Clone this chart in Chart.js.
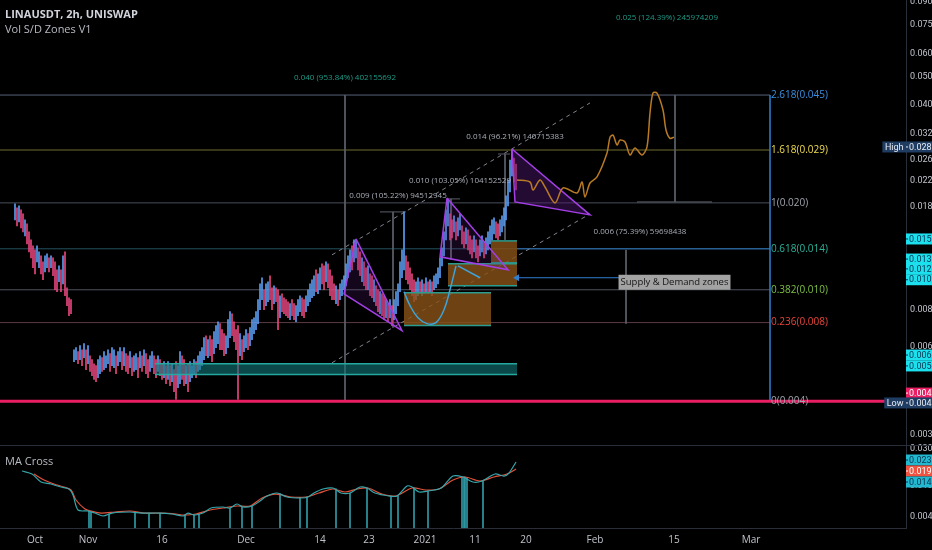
<!DOCTYPE html>
<html>
<head>
<meta charset="utf-8">
<script src="https://cdn.jsdelivr.net/npm/chart.js@4.4.1/dist/chart.umd.min.js"></script>
<style>
  html, body { margin: 0; padding: 0; background: #000; }
  #wrap { position: relative; width: 932px; height: 550px; }
  canvas { display: block; }
  .t { position: absolute; left: 5px; font-family: "Open Sans", sans-serif; font-size: 11px; line-height: 13px; color: #d1d4dc; white-space: nowrap; }
</style>
</head>
<body>
<div id="wrap">
  <canvas id="c" width="932" height="550"></canvas>
  <div class="t" style="top:7px;font-weight:bold;">LINAUSDT, 2h, UNISWAP</div>
  <div class="t" style="top:22px;color:#b8bbc3;">Vol S/D Zones V1</div>
  <div class="t" style="top:454px;color:#b8bbc3;">MA Cross</div>
</div>
<script>
// x axis is in bar slots (one slot ~ 2 px of the original screenshot)
const xTickPos = [17.5, 44, 81, 123, 160, 184.5, 212.5, 237.5, 263, 297.5, 337, 375.5];
const xTickLabels = ['Oct', 'Nov', '16', 'Dec', '14', '23', '2021', '11', '20', 'Feb', '15', 'Mar'];
const priceTicks = [0.090, 0.075, 0.060, 0.050, 0.040, 0.032, 0.026, 0.022, 0.018, 0.010, 0.008, 0.006, 0.004, 0.003];
const maTicks = [0.030, 0.010, 0.004];

// candles: three runs of consecutive slots (gap in October)
const candleSegStart = [7.5, 37, 100];
const candleSegLen = [29, 63, 159];
const candleHigh = [
  // Oct
  0.01840,0.01783,0.01811,0.01755,0.01701,0.01623,0.01573,0.01477,0.01387,0.01323,0.01282,0.01323,0.01262,0.01223,0.01167,
  0.01223,0.01243,0.01204,0.01223,0.01204,0.01167,0.01096,0.01131,0.01096,0.01223,0.01262,0.00952,0.00880,0.00867,
  // Nov
  0.00585,0.00595,0.00576,0.00604,0.00585,0.00614,0.00585,0.00604,0.00558,0.00541,0.00524,0.00516,0.00541,0.00558,0.00550,
  0.00576,0.00558,0.00585,0.00567,0.00595,0.00585,0.00558,0.00576,0.00595,0.00576,0.00595,0.00567,0.00558,0.00576,0.00550,
  0.00558,0.00567,0.00550,0.00576,0.00558,0.00585,0.00567,0.00541,0.00558,0.00576,0.00558,0.00541,0.00558,0.00541,0.00524,
  0.00533,0.00516,0.00533,0.00516,0.00524,0.00500,0.00533,0.00516,0.00576,0.00558,0.00541,0.00516,0.00524,0.00533,0.00516,
  0.00541,0.00533,0.00558,
  // late Nov - Jan
  0.00576,0.00595,0.00643,0.00653,0.00633,0.00653,0.00633,0.00674,0.00707,0.00729,0.00718,0.00685,0.00664,0.00653,0.00741,
  0.00789,0.00776,0.00729,0.00685,0.00707,0.00664,0.00633,0.00653,0.00685,0.00664,0.00696,0.00741,0.00752,0.00789,0.00867,
  0.00982,0.01030,0.00937,0.00982,0.00998,0.01046,0.00952,0.00967,0.00952,0.00937,0.00894,0.00908,0.00880,0.00867,0.00853,
  0.00840,0.00867,0.00840,0.00827,0.00867,0.00894,0.00880,0.00867,0.00894,0.00937,0.00982,0.01014,0.01046,0.01096,0.01062,
  0.01114,0.01149,0.01131,0.01167,0.01149,0.01096,0.01046,0.00982,0.00967,0.00937,0.00982,0.01014,0.01046,0.01149,0.01223,
  0.01282,0.01323,0.01387,0.01387,0.01303,0.01262,0.01204,0.01167,0.01114,0.01131,0.01062,0.01046,0.01014,0.00967,0.00937,
  0.00923,0.00908,0.00894,0.00867,0.00840,0.00867,0.00827,0.00867,0.00923,0.00982,0.01167,0.01282,0.01728,0.01223,0.01167,
  0.01114,0.01062,0.01014,0.00998,0.01030,0.00998,0.01014,0.00982,0.01030,0.00998,0.01014,0.00998,0.01046,0.01062,0.01114,
  0.01204,0.01303,0.01477,0.01755,0.01898,0.01701,0.01623,0.01674,0.01597,0.01648,0.01701,0.01548,0.01477,0.01524,0.01500,
  0.01431,0.01387,0.01431,0.01387,0.01323,0.01387,0.01431,0.01365,0.01409,0.01477,0.01548,0.01623,0.01648,0.01597,0.01573,
  0.01623,0.01674,0.01783,0.01959,0.02221,0.02599,0.02811,0.02640,0.02518
];
const candleLow = [
  // Oct
  0.01623,0.01548,0.01597,0.01524,0.01477,0.01431,0.01344,0.01262,0.01204,0.01114,0.01062,0.01167,0.01114,0.01062,0.01014,
  0.01079,0.01114,0.01079,0.01114,0.01046,0.00937,0.00923,0.00998,0.00923,0.00982,0.00894,0.00827,0.00764,0.00776,
  // Nov
  0.00533,0.00541,0.00524,0.00541,0.00516,0.00550,0.00500,0.00524,0.00493,0.00477,0.00463,0.00455,0.00470,0.00485,0.00493,
  0.00500,0.00508,0.00524,0.00493,0.00516,0.00508,0.00485,0.00516,0.00533,0.00500,0.00516,0.00493,0.00485,0.00508,0.00477,
  0.00493,0.00500,0.00470,0.00508,0.00493,0.00516,0.00485,0.00470,0.00493,0.00508,0.00485,0.00470,0.00493,0.00477,0.00463,
  0.00470,0.00448,0.00463,0.00441,0.00455,0.00421,0.00396,0.00434,0.00448,0.00463,0.00441,0.00448,0.00421,0.00455,0.00470,
  0.00485,0.00470,0.00493,
  // late Nov - Jan
  0.00500,0.00516,0.00541,0.00558,0.00550,0.00558,0.00533,0.00567,0.00595,0.00614,0.00585,0.00585,0.00558,0.00567,0.00595,
  0.00643,0.00653,0.00623,0.00585,0.00396,0.00558,0.00541,0.00576,0.00595,0.00585,0.00604,0.00633,0.00664,0.00685,0.00718,
  0.00801,0.00867,0.00801,0.00827,0.00853,0.00867,0.00801,0.00840,0.00853,0.00685,0.00752,0.00789,0.00776,0.00764,0.00752,
  0.00741,0.00764,0.00741,0.00729,0.00764,0.00789,0.00764,0.00752,0.00789,0.00827,0.00853,0.00880,0.00894,0.00923,0.00908,
  0.00937,0.00982,0.00937,0.00998,0.00952,0.00894,0.00867,0.00867,0.00840,0.00827,0.00867,0.00894,0.00937,0.00967,0.01030,
  0.01079,0.01096,0.01167,0.01204,0.01096,0.01046,0.00998,0.00967,0.00937,0.00937,0.00894,0.00880,0.00853,0.00827,0.00789,
  0.00776,0.00764,0.00741,0.00752,0.00729,0.00752,0.00707,0.00741,0.00776,0.00827,0.00923,0.01030,0.01096,0.01014,0.00982,
  0.00937,0.00894,0.00853,0.00867,0.00894,0.00908,0.00894,0.00908,0.00923,0.00908,0.00923,0.00894,0.00937,0.00952,0.00982,
  0.01030,0.01131,0.01223,0.01387,0.01548,0.01387,0.01409,0.01477,0.01387,0.01431,0.01500,0.01344,0.01303,0.01344,0.01282,
  0.01243,0.01204,0.01262,0.01204,0.01167,0.01223,0.01262,0.01204,0.01243,0.01282,0.01344,0.01387,0.01454,0.01409,0.01387,
  0.01431,0.01477,0.01548,0.01623,0.01811,0.02021,0.02292,0.02186,0.02053
];
const candleDir = (
  'ududduddddduudduududddududdddu'.slice(0, 29) +
  'uududududd' + 'dduuduuudu' + 'uduududdud' + 'uudududduu' + 'dduddududu' + 'dduudduduu' + 'udu' +
  'uuududduuu' + 'ddduuudddd' + 'uduuduuuuu' + 'uuduuddudd' + 'uddddudduu' + 'udduuuuudu' + 'udduddddud' +
  'uuuuuuduud' + 'dudduddudd' + 'uddududuuu' + 'uuuddddduu' + 'dudududuuu' + 'uuuuuddudu' + 'uddudddudd' +
  'uuduuuuudd' + 'uuuuuuudd'
).split('');

// Fibonacci retracement
const fibLevels = ['0', '0.236', '0.382', '0.618', '1', '1.618', '2.618'];
const fibValues = ['0.004', '0.008', '0.010', '0.014', '0.020', '0.029', '0.045'];
const fibPrices = [0.00389, 0.00724, 0.00937, 0.01293, 0.01855, 0.02811, 0.0433];
const fibLineColors = ['#4a4f5c', '#5b3a44', '#4d525c', '#24525f', '#4a4f5c', '#6f6d2c', '#566079'];
const fibLabelColors = ['#a0a4ad', '#e8453c', '#7cc043', '#2bb39a', '#a0a4ad', '#f0dc50', '#3b8fe0'];
const fibStartX = 0, fibEndX = 385;

// measuring tool segments and labels
const guideX0 = [172.5, 196.5, 190, 225.5, 223.5, 252.5, 249, 313, 337.5, 318.5];
const guideP0 = [0.0433, 0.01728, 0.01728, 0.01914, 0.01914, 0.02724, 0.02724, 0.01282, 0.0433, 0.01869];
const guideX1 = [172.5, 196.5, 203, 225.5, 230, 252.5, 255, 313, 337.5, 356];
const guideP1 = [0.00392, 0.00696, 0.01728, 0.01186, 0.01914, 0.01387, 0.02724, 0.00718, 0.01869, 0.01869];
const noteText = ['0.040 (953.84%) 402155692', '0.009 (105.22%) 94512945', '0.010 (103.05%) 104152529',
                  '0.014 (96.21%) 140715383', '0.006 (75.39%) 59698438', '0.025 (124.39%) 245974209'];
const noteX = [172.5, 199, 230, 257.5, 320, 333.5];
const noteP = [0.0495, 0.01959, 0.02203, 0.0311, 0.01477, 0.0794];
const noteColor = ['#1f9c88', '#a9adb6', '#a9adb6', '#a9adb6', '#a9adb6', '#1f9c88'];
const calloutText = 'Supply & Demand zones';
const calloutX = 337.25, calloutP = 0.00994;

// zones
const boxX0 = [77.5, 202, 224, 245.5];
const boxX1 = [258.5, 245.5, 258.5, 258.5];
const boxTop = [0.00524, 0.00916, 0.01149, 0.01376];
const boxBottom = [0.00481, 0.00707, 0.00967, 0.01158];
const boxFill = ['rgba(18,120,122,0.6)', 'rgba(138,82,22,0.8)', 'rgba(138,82,22,0.8)', 'rgba(138,82,22,0.8)'];
const boxEdge = ['#24a8a0', '#2a9d8f', '#2a9d8f', '#2a9d8f'];

// pennants (three vertices each)
const triX = [[178, 172, 201], [223.5, 220, 254], [256, 257.5, 295]];
const triP = [[0.01398, 0.00908, 0.0068], [0.01928, 0.01214, 0.01096], [0.02834, 0.01869, 0.01688]];
const triFill = ['rgba(110,40,150,0.18)', 'rgba(110,40,150,0.18)', 'rgba(80,25,115,0.45)'];

// rising channel
const chanX = [166, 295];
const chanLow = [0.00528, 0.01701];
const chanHigh = [0.01233, 0.0407];

// cup and handle
const cupX = [202, 205, 209, 213.5, 218, 222, 225, 228];
const cupP = [0.00923, 0.00827, 0.00752, 0.00718, 0.00724, 0.00801, 0.00937, 0.01131];
const handleX = [229, 240];
const handleP = [0.01131, 0.0103];

// projected path
const pathX = [258.5, 265, 266.5, 270, 272.5, 277.5, 281.5, 288.5, 291, 292.5, 295, 298.5, 303.5, 305, 306.5,
               308.5, 310, 312.5, 315, 317.5, 321, 323.5, 325, 326.5, 328.5, 331.5, 333, 335, 337];
const pathP = [0.02221, 0.02186, 0.02053, 0.02221, 0.02102, 0.01855, 0.02086, 0.02005, 0.02186, 0.01944, 0.02169, 0.02274,
               0.02745, 0.0311, 0.0316, 0.02924, 0.03041, 0.02994, 0.02703, 0.02856, 0.02703, 0.02879, 0.0376, 0.0440,
               0.0440, 0.0385, 0.0329, 0.0308, 0.0311];

// arrows / support
const arrowX = [258.5, 313];
const arrowP = [0.0103, 0.0103];
const blueLevelX = [258.5, 385];
const supportPrice = 0.0039;

// MA Cross pane
const fastX = [11, 16, 20.5, 25.5, 30.5, 34.5, 36.5, 39, 44, 47.5, 51.5, 56, 65, 71, 79.5, 86, 91.5, 94, 97, 101.5,
               105.5, 111.5, 115, 118.5, 121.5, 126, 130, 133.5, 138.5, 143.5, 150.5, 154, 157, 161.5, 166.5, 170.5,
               175, 180, 183.5, 187.5, 194.5, 198.5, 203.5, 206, 209.5, 214, 220.5, 226.5, 231.5, 236.5, 241, 247.5,
               252, 254.5, 258];
const fastMA = [0.01562, 0.01429, 0.01127, 0.01062, 0.00971, 0.00916, 0.00766, 0.00491, 0.00477, 0.00449, 0.00411,
                0.00449, 0.00463, 0.00449, 0.00449, 0.00436, 0.00411, 0.00449, 0.00423, 0.00449, 0.00521, 0.00537,
                0.00521, 0.00587, 0.00537, 0.00553, 0.00641, 0.00744, 0.00813, 0.00722, 0.00701, 0.00722, 0.00813,
                0.00916, 0.00943, 0.00813, 0.00813, 0.00971, 0.00943, 0.00813, 0.00744, 0.00744, 0.01001, 0.00971,
                0.00838, 0.00863, 0.00943, 0.01346, 0.01307, 0.01127, 0.01161, 0.01429, 0.01346, 0.01472, 0.02040];
const slowX = [17, 22, 27, 32, 35.5, 38, 42.5, 45.5, 50.5, 57.5, 65, 72.5, 81, 88, 92, 98, 105, 111.5, 118.5, 125,
               131, 138, 145.5, 153, 159.5, 166.5, 172.5, 178.5, 184, 191, 198, 206, 213, 219.5, 226.5, 232.5, 240,
               247, 253.5, 258];
const slowMA = [0.01429, 0.01196, 0.01062, 0.00971, 0.00889, 0.00661, 0.00506, 0.00477, 0.00449, 0.00463, 0.00477,
                0.00449, 0.00449, 0.00436, 0.00423, 0.00436, 0.00491, 0.00521, 0.00553, 0.00553, 0.00701, 0.00789,
                0.00722, 0.00722, 0.00813, 0.00916, 0.00838, 0.00916, 0.00943, 0.00789, 0.00744, 0.00943, 0.00889,
                0.00916, 0.01196, 0.01307, 0.01161, 0.01307, 0.01429, 0.01657];
const crossX = [44.5, 45.5, 54.5, 67.5, 74.5, 80, 92.5, 97, 99.5, 115, 121, 126, 140, 150, 153.5, 168, 175, 183.5,
                195.5, 199, 207, 214, 231, 232, 232.5, 233.5, 241.5];
const crossV = [0.00477, 0.00477, 0.0044, 0.00463, 0.00449, 0.00449, 0.00423, 0.0043, 0.0044, 0.00521, 0.00545, 0.00553,
                0.0080, 0.0071, 0.00722, 0.0092, 0.00813, 0.00943, 0.00744, 0.00744, 0.0095, 0.0087, 0.0131, 0.0131,
                0.01307, 0.0129, 0.01161];

// price tags on the right axis
const tagText = ['0.028', '0.015', '0.013', '0.012', '0.010', '0.006', '0.005', '0.004', '0.004'];
const tagPrice = [0.02879, 0.01397, 0.01193, 0.01104, 0.01014, 0.00561, 0.00515, 0.00416, 0.00385];
const tagPrefix = ['High', '', '', '', '', '', '', '', 'Low'];
const tagBg = ['#1f3d63', '#1ce0ee', '#1ce0ee', '#1ce0ee', '#1ce0ee', '#1ce0ee', '#1ce0ee', '#e91e63', '#1f3d63'];
const tagFg = ['#e8eaf0', '#0a3550', '#0a3550', '#0a3550', '#0a3550', '#0a3550', '#0a3550', '#ffffff', '#e8eaf0'];
const maTagText = ['0.023', '0.019', '0.014'];
const maTagValue = [0.02165, 0.01562, 0.01127];
const maTagBg = ['#22b8cf', '#ef5340', '#22b8cf'];
const maTagFg = ['#0a3550', '#ffffff', '#0a3550'];

const yMin = 0.002766, yMax = 0.0914;
const maMin = 0.00288, maMax = 0.0338;

const UP = '#5b9cf0', DOWN = '#e5457d';
const AXIS_TXT = '#c0c3cb';

// ---------- build datasets ----------
const candleX = [];
candleSegStart.forEach((s, k) => { for (let i = 0; i < candleSegLen[k]; i++) candleX.push(s + i); });

const pts = (xs, ys) => xs.map((x, i) => ({ x: x, y: ys[i] }));
const line = (data, color, extra) => Object.assign({
  type: 'line', data: data, borderColor: color, borderWidth: 1, pointRadius: 0,
  fill: false, tension: 0, yAxisID: 'y'
}, extra || {});

const datasets = [];

// fib levels
fibPrices.forEach((p, i) => {
  datasets.push(line(pts([fibStartX, fibEndX], [p, p]), fibLineColors[i]));
});
datasets.push(line(pts(blueLevelX, [fibPrices[3], fibPrices[3]]), '#2f6fb8'));
datasets.push(line(pts([fibEndX, fibEndX], [fibPrices[6], fibPrices[0]]), '#2f80d0', { borderWidth: 1.5 }));

// measuring guides
guideX0.forEach((x0, i) => {
  datasets.push(line(pts([x0, guideX1[i]], [guideP0[i], guideP1[i]]), '#5a5f69'));
});

// channel
datasets.push(line(pts(chanX, chanLow), '#80858f', { borderDash: [4, 4] }));
datasets.push(line(pts(chanX, chanHigh), '#80858f', { borderDash: [4, 4] }));

// candles
datasets.push({
  type: 'bar', yAxisID: 'y', grouped: false, barThickness: 1, borderWidth: 0,
  data: candleX.map((x, i) => ({ x: x, y: [candleLow[i], candleHigh[i]] })),
  backgroundColor: candleDir.map(d => d === 'u' ? UP : DOWN)
});

// zones
boxX0.forEach((x0, i) => {
  datasets.push(line(pts([x0, boxX1[i]], [boxTop[i], boxTop[i]]), boxEdge[i], { fill: '+1', backgroundColor: boxFill[i], borderWidth: 1.5 }));
  datasets.push(line(pts([x0, boxX1[i]], [boxBottom[i], boxBottom[i]]), boxEdge[i], { borderWidth: 1.5 }));
});

// cup and handle
datasets.push(line(pts(cupX, cupP), '#3ea3d8', { tension: 0.4, borderWidth: 1.5 }));
datasets.push(line(pts(handleX, handleP), '#3ea3d8', { borderWidth: 1.5 }));

// pennants
triX.forEach((xs, k) => {
  const v = pts(xs, triP[k]).sort((a, b) => a.x - b.x);
  const t = (v[1].x - v[0].x) / (v[2].x - v[0].x);
  const chord = Math.exp(Math.log(v[0].y) + t * (Math.log(v[2].y) - Math.log(v[0].y)));
  const bent = [v[0], v[1], v[2]], straight = [v[0], v[2]];
  const upper = v[1].y > chord ? bent : straight;
  const lower = v[1].y > chord ? straight : bent;
  datasets.push(line(upper, 'rgba(0,0,0,0)', { borderWidth: 0, fill: '+1', backgroundColor: triFill[k] }));
  datasets.push(line(lower, 'rgba(0,0,0,0)', { borderWidth: 0 }));
  const outline = pts(xs, triP[k]);
  outline.push(outline[0]);
  datasets.push(line(outline, '#a43fe6', { borderWidth: 1.5 }));
});

// projected path
datasets.push(line(pts(pathX, pathP), '#b87a24', { tension: 0.3, borderWidth: 1.5 }));

// arrow to zones
datasets.push(line(pts(arrowX, arrowP), '#2f80d0', {
  pointRadius: [4, 0], pointStyle: 'triangle', pointRotation: 270,
  pointBackgroundColor: '#2f80d0', pointBorderWidth: 0
}));

// support line
datasets.push(line(pts([0, 453], [supportPrice, supportPrice]), '#e91e63', { borderWidth: 3 }));

// MA Cross pane
datasets.push({
  type: 'bar', yAxisID: 'y2', grouped: false, barThickness: 1, borderWidth: 0,
  data: crossX.map((x, i) => ({ x: x, y: [maMin, crossV[i]] })),
  backgroundColor: '#2e9aa6'
});
datasets.push(line(pts(slowX, slowMA), '#e0523c', { yAxisID: 'y2', tension: 0.3, borderWidth: 1.2 }));
datasets.push(line(pts(fastX, fastMA), '#35a7ad', { yAxisID: 'y2', tension: 0.3, borderWidth: 1.2 }));

// paint in array order
datasets.forEach((d, i) => { d.order = -i; });

// ---------- text / tags plugin ----------
const overlay = {
  id: 'overlay',
  afterDatasetsDraw(chart) {
    const { ctx, scales: { x, y } } = chart;
    ctx.save();
    ctx.textBaseline = 'middle';
    // fib labels
    ctx.font = '10px "Open Sans"';
    ctx.textAlign = 'left';
    fibLevels.forEach((lv, i) => {
      ctx.fillStyle = fibLabelColors[i];
      ctx.fillText(lv + '(' + fibValues[i] + ')', x.getPixelForValue(fibEndX) + 1, y.getPixelForValue(fibPrices[i]));
    });
    // measure notes
    ctx.font = '8px "Open Sans"';
    ctx.textAlign = 'center';
    noteText.forEach((t, i) => {
      ctx.fillStyle = noteColor[i];
      ctx.fillText(t, x.getPixelForValue(noteX[i]), y.getPixelForValue(noteP[i]));
    });
    // callout
    ctx.font = '9.5px "Open Sans"';
    const cx = x.getPixelForValue(calloutX), cy = y.getPixelForValue(calloutP);
    const w = ctx.measureText(calloutText).width + 4;
    ctx.fillStyle = '#a3a3a3';
    ctx.fillRect(cx - w / 2, cy - 7.5, w, 15);
    ctx.fillStyle = '#151515';
    ctx.fillText(calloutText, cx, cy + 0.5);
    ctx.restore();
  },
  afterDraw(chart) {
    const { ctx, chartArea, scales: { y, y2 } } = chart;
    const ax = chartArea.right;
    ctx.save();
    // pane separator
    ctx.strokeStyle = '#2a2e39';
    ctx.lineWidth = 1;
    ctx.beginPath();
    ctx.moveTo(0, Math.round(y.bottom) + 0.5);
    ctx.lineTo(chart.width, Math.round(y.bottom) + 0.5);
    ctx.stroke();
    const tag = (py, text, bg, fg, prefix) => {
      const h = 11;
      ctx.font = '9px Roboto';
      ctx.textBaseline = 'middle';
      ctx.fillStyle = bg;
      ctx.fillRect(ax, py - h / 2, chart.width - ax, h);
      if (prefix) {
        const pw = ctx.measureText(prefix).width + 5;
        ctx.fillRect(ax - pw, py - h / 2, pw, h);
        ctx.fillStyle = fg;
        ctx.textAlign = 'center';
        ctx.fillText(prefix, ax - pw / 2, py + 0.5);
      }
      ctx.fillStyle = fg;
      ctx.fillRect(ax, py - 0.5, 2, 1);
      ctx.textAlign = 'left';
      ctx.fillText(text, ax + 3, py + 0.5);
    };
    tagText.forEach((t, i) => tag(y.getPixelForValue(tagPrice[i]), t, tagBg[i], tagFg[i], tagPrefix[i]));
    maTagText.forEach((t, i) => tag(y2.getPixelForValue(maTagValue[i]), t, maTagBg[i], maTagFg[i], ''));
    ctx.restore();
  }
};

const axisFont = { size: 9, family: 'Roboto' };
const noPad = s => { s.paddingTop = 0; s.paddingBottom = 0; s.paddingLeft = 0; s.paddingRight = 0; };

new Chart(document.getElementById('c'), {
  type: 'line',
  data: { datasets: datasets },
  options: {
    responsive: false,
    animation: false,
    events: [],
    layout: { padding: 0, autoPadding: false },
    plugins: { legend: { display: false }, tooltip: { enabled: false } },
    scales: {
      x: {
        type: 'linear', min: 0, max: 453, offset: false,
        grid: { display: false, drawTicks: false },
        border: { display: true, color: '#2a2e39' },
        afterBuildTicks: s => { s.ticks = xTickPos.map(v => ({ value: v })); },
        afterFit: s => { s.height = 22; noPad(s); },
        ticks: {
          color: AXIS_TXT, font: { size: 10, family: '"Open Sans"' }, autoSkip: false, maxRotation: 0, padding: 6,
          callback: (v, i) => xTickLabels[i]
        }
      },
      y: {
        type: 'logarithmic', position: 'right', stack: 'pane', stackWeight: 445,
        min: yMin, max: yMax,
        grid: { display: false, drawTicks: false },
        border: { display: true, color: '#2a2e39' },
        afterBuildTicks: s => { s.ticks = priceTicks.map(v => ({ value: v })); },
        afterFit: s => { s.width = 26; noPad(s); },
        ticks: { color: AXIS_TXT, font: axisFont, padding: 4, autoSkip: false, callback: v => Number(v).toFixed(3) }
      },
      y2: {
        type: 'logarithmic', position: 'right', stack: 'pane', stackWeight: 83,
        min: maMin, max: maMax,
        grid: { display: false, drawTicks: false },
        border: { display: true, color: '#2a2e39' },
        afterBuildTicks: s => { s.ticks = maTicks.map(v => ({ value: v })); },
        afterFit: s => { s.width = 26; noPad(s); },
        ticks: { color: AXIS_TXT, font: axisFont, padding: 4, autoSkip: false, callback: v => Number(v).toFixed(3) }
      }
    }
  },
  plugins: [overlay]
});
</script>
</body>
</html>
